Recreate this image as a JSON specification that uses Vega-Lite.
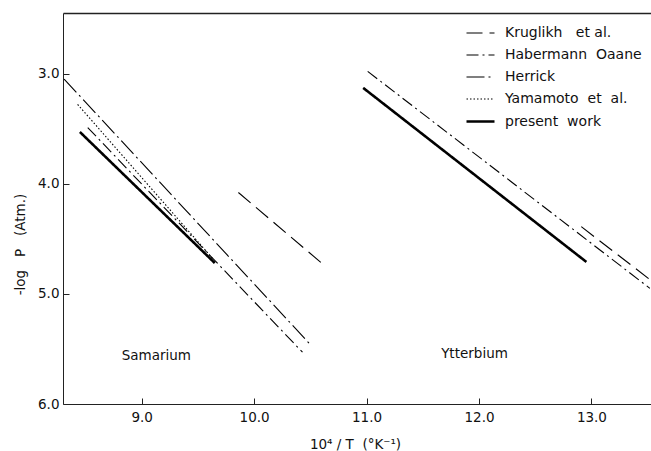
{
  "$schema": "https://vega.github.io/schema/vega-lite/v6.json",
  "width": 588,
  "height": 391,
  "autosize": {"type": "none"},
  "padding": {"left": 63, "top": 13, "right": 0, "bottom": 47},
  "background": "white",
  "config": {
    "view": {"stroke": null},
    "font": "DejaVu Sans",
    "axis": {
      "grid": false,
      "domainColor": "#222",
      "tickColor": "#222",
      "labelColor": "#111",
      "titleColor": "#111",
      "labelFont": "DejaVu Sans",
      "titleFont": "DejaVu Sans",
      "labelFontSize": 13.5,
      "titleFontSize": 13.5,
      "titleFontWeight": "normal",
      "domainWidth": 1,
      "tickWidth": 1
    },
    "legend": {
      "orient": "none",
      "legendX": 402,
      "legendY": 5,
      "symbolType": "stroke",
      "symbolSize": 784,
      "symbolStrokeColor": "black",
      "labelFont": "DejaVu Sans",
      "labelFontSize": 14,
      "labelColor": "#111",
      "labelOffset": 9,
      "labelLimit": 250,
      "rowPadding": -6
    }
  },
  "datasets": {
    "lines": [
      {"series": "Kruglikh\u00a0\u00a0 et al.", "element": "Sm", "x": 9.86, "y": 4.08},
      {"series": "Kruglikh\u00a0\u00a0 et al.", "element": "Sm", "x": 10.6, "y": 4.72},
      {"series": "Kruglikh\u00a0\u00a0 et al.", "element": "Yb", "x": 12.91, "y": 4.39},
      {"series": "Kruglikh\u00a0\u00a0 et al.", "element": "Yb", "x": 13.52, "y": 4.87},
      {"series": "Habermann\u00a0 Oaane", "element": "Sm", "x": 8.52, "y": 3.49},
      {"series": "Habermann\u00a0 Oaane", "element": "Sm", "x": 10.43, "y": 5.53},
      {"series": "Habermann\u00a0 Oaane", "element": "Yb", "x": 11.01, "y": 2.98},
      {"series": "Habermann\u00a0 Oaane", "element": "Yb", "x": 13.52, "y": 4.95},
      {"series": "Herrick", "element": "Sm", "x": 8.31, "y": 3.05},
      {"series": "Herrick", "element": "Sm", "x": 10.5, "y": 5.46},
      {"series": "Yamamoto\u00a0 et\u00a0 al.", "element": "Sm", "x": 8.43, "y": 3.28},
      {"series": "Yamamoto\u00a0 et\u00a0 al.", "element": "Sm", "x": 9.64, "y": 4.69},
      {"series": "present\u00a0 work", "element": "Sm", "x": 8.45, "y": 3.53},
      {"series": "present\u00a0 work", "element": "Sm", "x": 9.65, "y": 4.72},
      {"series": "present\u00a0 work", "element": "Yb", "x": 10.97, "y": 3.13},
      {"series": "present\u00a0 work", "element": "Yb", "x": 12.955, "y": 4.71}
    ],
    "labels": [
      {"label": "Samarium", "x": 9.13, "y": 5.56},
      {"label": "Ytterbium", "x": 11.96, "y": 5.55}
    ]
  },
  "layer": [
    {
      "data": {"name": "lines"},
      "mark": {"type": "line", "color": "black"},
      "encoding": {
        "x": {
          "field": "x",
          "type": "quantitative",
          "scale": {"domain": [8.3, 13.53], "nice": false, "zero": false},
          "axis": {
            "orient": "bottom",
            "values": [9, 10, 11, 12, 13],
            "format": ".1f",
            "tickSize": -6,
            "labelPadding": 12,
            "title": "10⁴ / T\u00a0 (°K⁻¹)",
            "titleX": 292,
            "titleY": 40,
            "titleBaseline": "middle",
            "titleAlign": "center"
          }
        },
        "y": {
          "field": "y",
          "type": "quantitative",
          "scale": {"domain": [2.45, 6], "nice": false, "zero": false, "reverse": true},
          "axis": {
            "orient": "left",
            "values": [3, 4, 5, 6],
            "format": ".1f",
            "tickSize": -6,
            "labelPadding": 10,
            "title": "-log\u00a0\u00a0 P\u00a0\u00a0 (Atm.)",
            "titleAngle": -90,
            "titleX": -43,
            "titleY": 231,
            "titleBaseline": "middle",
            "titleAlign": "center"
          }
        },
        "detail": {"field": "element", "type": "nominal"},
        "strokeDash": {
          "field": "series",
          "type": "nominal",
          "title": null,
          "scale": {
            "domain": ["Kruglikh\u00a0\u00a0 et al.", "Habermann\u00a0 Oaane", "Herrick", "Yamamoto\u00a0 et\u00a0 al.", "present\u00a0 work"],
            "range": [[16, 7], [12, 4, 2, 4], [18, 4, 2, 4], [1.5, 2], [1, 0]]
          },
          "legend": {"labelFontSize": 14, "labelFont": "DejaVu Sans", "labelLimit": 250}
        },
        "strokeWidth": {
          "field": "series",
          "type": "nominal",
          "title": null,
          "scale": {
            "type": "ordinal",
            "domain": ["Kruglikh\u00a0\u00a0 et al.", "Habermann\u00a0 Oaane", "Herrick", "Yamamoto\u00a0 et\u00a0 al.", "present\u00a0 work"],
            "range": [1.1, 1.1, 1.1, 1.1, 2.6]
          },
          "legend": {"labelFontSize": 14, "labelFont": "DejaVu Sans", "labelLimit": 250}
        }
      }
    },
    {
      "data": {"name": "labels"},
      "mark": {"type": "text", "color": "#111", "fontSize": 13.5, "font": "DejaVu Sans"},
      "encoding": {
        "x": {
          "field": "x",
          "type": "quantitative",
          "axis": {
            "orient": "top",
            "labels": false,
            "ticks": false,
            "domain": true,
            "domainWidth": 1.4,
            "title": null
          }
        },
        "y": {"field": "y", "type": "quantitative"},
        "text": {"field": "label", "type": "nominal"}
      }
    }
  ],
  "resolve": {"axis": {"x": "independent"}}
}
